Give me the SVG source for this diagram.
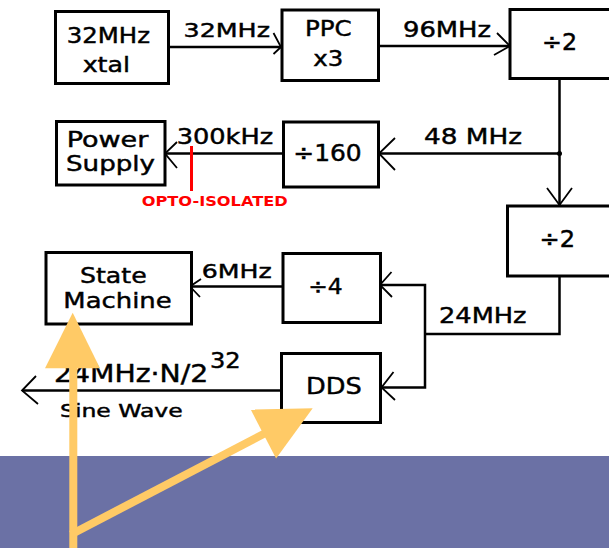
<svg xmlns="http://www.w3.org/2000/svg" width="609" height="548" viewBox="0 0 609 548">
<style>
.box{fill:#fff;stroke:#000;stroke-width:3}
.t{font-family:"DejaVu Sans",Verdana,sans-serif;fill:#000;stroke:#000;stroke-width:0.45}
.ln{fill:none;stroke:#000;stroke-width:2.5}
.ah{fill:none;stroke:#000;stroke-width:1.8;stroke-linejoin:miter}
.opto{font-family:"DejaVu Sans",Verdana,sans-serif;font-weight:bold;fill:#ff0000}
.ya{stroke:#ffca66;stroke-width:8;fill:none}
.yh{fill:#ffca66}
</style>
<rect x="0" y="0" width="609" height="548" fill="#ffffff"/>
<rect id="band" x="0" y="456" width="609" height="92" fill="#6b71a5"/>

<g id="connectors">
  <line class="ln" x1="168" y1="47" x2="281" y2="47"/>
  <polyline class="ah" points="273.5,33 281,47 273.5,54"/>
  <text class="t" x="183.5" y="36.7" font-size="20" textLength="86.5" lengthAdjust="spacingAndGlyphs">32MHz</text>

  <line class="ln" x1="378" y1="46" x2="510" y2="46"/>
  <polyline class="ah" points="497,33 510,46 494,55"/>
  <text class="t" x="403" y="37" font-size="21" textLength="88" lengthAdjust="spacingAndGlyphs">96MHz</text>

  <line class="ln" x1="559.5" y1="78" x2="559.5" y2="205"/>
  <polyline class="ah" points="547,188 559.5,205 572,188"/>

  <line class="ln" x1="559.5" y1="153.5" x2="379" y2="153.5"/>
  <circle cx="559.5" cy="153.5" r="2.5" fill="#000"/>
  <polyline class="ah" points="395,138 379,153.5 395,170"/>
  <text class="t" x="424" y="144.3" font-size="22" textLength="98" lengthAdjust="spacingAndGlyphs">48 MHz</text>

  <line class="ln" x1="283" y1="153.5" x2="165" y2="153.5"/>
  <polyline class="ah" points="177,142 165,153.5 177,168"/>
  <text class="t" x="176.7" y="144.3" font-size="21" textLength="96.5" lengthAdjust="spacingAndGlyphs">300kHz</text>
  <line x1="191.5" y1="146" x2="191.5" y2="191" stroke="#ff0000" stroke-width="3"/>
  <text class="opto" x="141.7" y="206" font-size="14.5" textLength="146" lengthAdjust="spacingAndGlyphs">OPTO-ISOLATED</text>

  <polyline class="ln" points="559.5,276 559.5,334 425,334"/>
  <polyline class="ln" points="380,285 425,285 425,387.5 381.5,387.5"/>
  <polyline class="ah" points="391.5,272 380,285 392,297"/>
  <polyline class="ah" points="393.5,372 381.5,387.5 395,400"/>
  <text class="t" x="439" y="323.3" font-size="22" textLength="87.5" lengthAdjust="spacingAndGlyphs">24MHz</text>

  <line class="ln" x1="283" y1="286.5" x2="190" y2="286.5"/>
  <polyline class="ah" points="201,279 190,286.5 200,297"/>
  <text class="t" x="201.7" y="278.3" font-size="20" textLength="70" lengthAdjust="spacingAndGlyphs">6MHz</text>

  <line class="ln" x1="281.5" y1="390.5" x2="22" y2="390.5"/>
  <polyline class="ah" points="36,376 22,390.5 38,404"/>
  <text class="t" x="54" y="381.7" font-size="24" textLength="154.3" lengthAdjust="spacingAndGlyphs">24MHz·N/2</text>
  <text class="t" x="210" y="368.3" font-size="21" textLength="30.7" lengthAdjust="spacingAndGlyphs">32</text>
  <text class="t" x="60" y="416.7" font-size="18" textLength="122.7" lengthAdjust="spacingAndGlyphs">Sine Wave</text>
</g>

<g id="xtal">
  <rect class="box" x="55.5" y="11.5" width="113" height="72"/>
  <text class="t" x="66.7" y="43.3" font-size="21" textLength="83.3" lengthAdjust="spacingAndGlyphs">32MHz</text>
  <text class="t" x="82.7" y="71.7" font-size="21" textLength="47.3" lengthAdjust="spacingAndGlyphs">xtal</text>
</g>
<g id="ppc">
  <rect class="box" x="282" y="10" width="96.5" height="70.5"/>
  <text class="t" x="305" y="36" font-size="22" textLength="46.7" lengthAdjust="spacingAndGlyphs">PPC</text>
  <text class="t" x="313.3" y="65.7" font-size="22" textLength="30" lengthAdjust="spacingAndGlyphs">x3</text>
</g>
<g id="div2a">
  <rect class="box" x="510" y="9.5" width="110" height="69"/>
  <text class="t" x="542" y="50" font-size="23" textLength="35" lengthAdjust="spacingAndGlyphs">÷2</text>
</g>
<g id="power">
  <rect class="box" x="56.5" y="121.5" width="108.5" height="63.5"/>
  <text class="t" x="66.7" y="146.7" font-size="21" textLength="81.6" lengthAdjust="spacingAndGlyphs">Power</text>
  <text class="t" x="66" y="170.7" font-size="21" textLength="89" lengthAdjust="spacingAndGlyphs">Supply</text>
</g>
<g id="div160">
  <rect class="box" x="283.5" y="122" width="95" height="65"/>
  <text class="t" x="293.3" y="161" font-size="23" textLength="68.4" lengthAdjust="spacingAndGlyphs">÷160</text>
</g>
<g id="div2b">
  <rect class="box" x="507.5" y="206" width="112" height="70"/>
  <text class="t" x="539.5" y="247.3" font-size="23" textLength="35.5" lengthAdjust="spacingAndGlyphs">÷2</text>
</g>
<g id="statemachine">
  <rect class="box" x="46" y="252.5" width="145.5" height="71.5"/>
  <text class="t" x="80" y="282.7" font-size="22" textLength="66.7" lengthAdjust="spacingAndGlyphs">State</text>
  <text class="t" x="63.3" y="308.3" font-size="22" textLength="108.4" lengthAdjust="spacingAndGlyphs">Machine</text>
</g>
<g id="div4">
  <rect class="box" x="283" y="253.5" width="97.5" height="69"/>
  <text class="t" x="308.3" y="294.3" font-size="22" textLength="34.4" lengthAdjust="spacingAndGlyphs">÷4</text>
</g>
<g id="dds">
  <rect class="box" x="281.5" y="353.5" width="99" height="69"/>
  <text class="t" x="306" y="394" font-size="23" textLength="55.7" lengthAdjust="spacingAndGlyphs">DDS</text>
</g>

<g id="pointers">
  <line class="ya" x1="73.3" y1="548" x2="73.3" y2="366"/>
  <polygon class="yh" points="72.7,312.7 45,368.3 100,368.3"/>
  <line class="ya" x1="71" y1="534.5" x2="265" y2="433.2"/>
  <polygon class="yh" points="312.7,408.3 250.7,409.6 276.1,458.4"/>
</g>
</svg>
